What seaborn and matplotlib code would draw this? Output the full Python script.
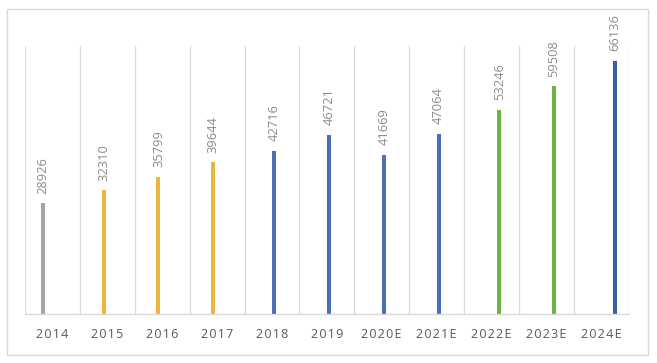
import matplotlib
matplotlib.use("Agg")
import matplotlib.pyplot as plt
import seaborn as sns
import pandas as pd
from matplotlib.patches import Rectangle

years = ["2014", "2015", "2016", "2017", "2018", "2019",
         "2020E", "2021E", "2022E", "2023E", "2024E"]
values = [28926, 32310, 35799, 39644, 42716, 46721,
          41669, 47064, 53246, 59508, 66136]
groups = ["s1", "s2", "s2", "s2", "s3", "s3", "s3", "s3", "s4", "s4", "s5"]

group_order = ["s1", "s2", "s3", "s4", "s5"]
palette = {"s1": "#A5A5A5", "s2": "#EAB53A", "s3": "#4A6FB5",
           "s4": "#6DB346", "s5": "#3A5F9E"}

df = pd.DataFrame({"year": years, "value": values, "group": groups})

sns.set_style("white")
plt.rcParams["font.family"] = ["Open Sans", "DejaVu Sans"]

fig = plt.figure(figsize=(6.57, 3.63), dpi=100)
ax = fig.add_axes([0.038, 0.135, 0.919, 0.738])

sns.barplot(data=df, x="year", y="value", hue="group", hue_order=group_order,
            palette=palette, order=years, dodge=True, width=0.52, gap=0.3,
            legend=False, ax=ax, saturation=1)

# small nudge to the right, like the original
for p in ax.patches:
    p.set_x(p.get_x() + 0.036)
    p.set_linewidth(0)

for cont in ax.containers:
    ax.bar_label(cont, fmt="%d", rotation=90, padding=7,
                 color="#8C8C8C", fontsize=9.3)

ax.set_ylim(0, 70000)
ax.set_xlim(-0.5, len(years) - 0.5)
ax.set_xlabel("")
ax.set_ylabel("")
ax.set_yticks([])

# vertical gridlines at category boundaries
for b in range(len(years) + 1):
    ax.axvline(b - 0.5, color="#D9D9D9", lw=0.9, zorder=0)

for s in ["top", "right", "left"]:
    ax.spines[s].set_visible(False)
ax.spines["bottom"].set_color("#D9D9D9")
ax.spines["bottom"].set_linewidth(1)
ax.set_xticks(range(len(years)))
ax.set_xticklabels(["\u200a".join(y) for y in years])
ax.tick_params(axis="x", length=0, pad=10, labelsize=9, labelcolor="#595959")

# outer frame
fig.patches.append(Rectangle((7 / 657, 1 - 355 / 363), 641 / 657, 346 / 363,
                             transform=fig.transFigure, fill=False,
                             edgecolor="#D9D9D9", lw=1))

fig.savefig("out.png", dpi=100)
